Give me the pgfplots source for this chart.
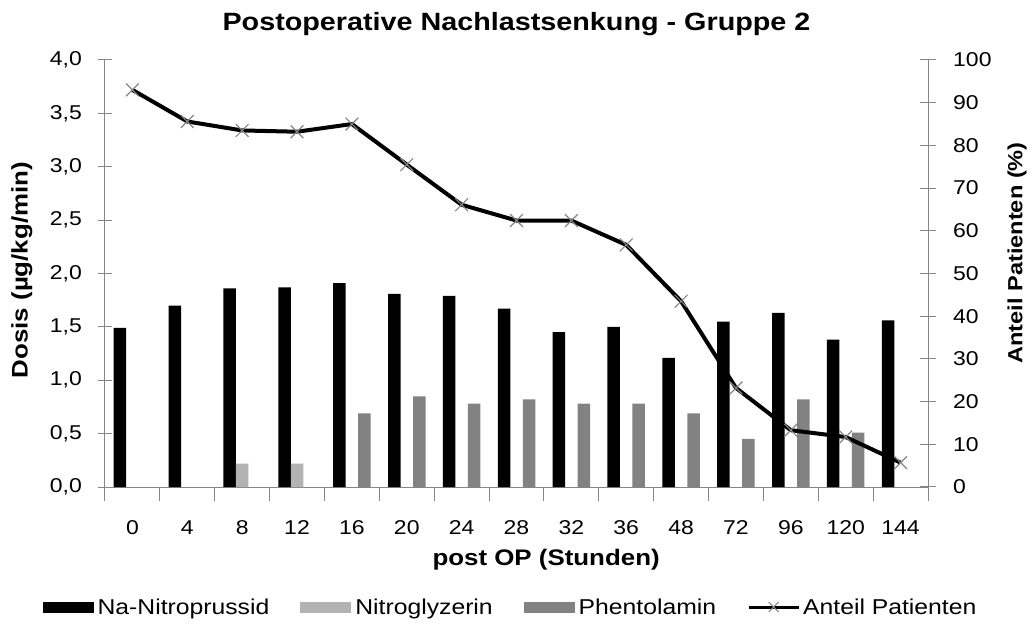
\documentclass[border=0pt]{standalone}
\usepackage{pgfplots}
\pgfplotsset{compat=1.18}
\usepackage{fontspec}
\setmainfont{Liberation Sans}[FakeStretch=1.15]
\definecolor{axgray}{HTML}{868686}
\definecolor{nitro}{HTML}{B3B3B3}
\definecolor{phento}{HTML}{828282}
\pgfplotsset{
  barlegend/.style={legend image code/.code={\fill[##1] (0bp,-5.5bp) rectangle (51bp,5.5bp); \path (53bp,0bp);}},
  linelegend/.style={legend image code/.code={\draw[mark repeat=2,mark phase=2,##1,sharp plot] plot coordinates {(0bp,0bp) (25bp,0bp) (50bp,0bp)}; \path (51bp,0bp);}},
}
\begin{document}
\begin{tikzpicture}
\path[use as bounding box] (-105bp,-137bp) rectangle (926bp,487bp);
\begin{axis}[
  at={(0,0)}, anchor=south west,
  scale only axis, width=823bp, height=427bp,
  xmin=-0.5, xmax=14.5, ymin=0, ymax=4,
  axis x line*=bottom, axis y line*=left,
  axis line style={axgray, line width=1bp, -},
  every tick/.style={axgray, line width=1bp},
  tick align=center,
  major tick length=14bp, minor tick length=14bp,
  xtick={0,...,14},
  xticklabels={0,4,8,12,16,20,24,28,32,36,48,72,96,120,144},
  major x tick style={draw=none},
  minor xtick={-0.5,0.5,...,14.5},
  ytick={0,0.5,1,1.5,2,2.5,3,3.5,4},
  yticklabel={\pgfmathprintnumber[fixed,fixed zerofill,precision=1,use comma,assume math mode=true]{\tick}},
  tick label style={font=\fontsize{20bp}{24bp}\selectfont},
  xticklabel style={anchor=base, yshift=-33bp},
  yticklabel style={anchor=east, inner sep=0pt, xshift=-16bp},
  title={Postoperative Nachlastsenkung - Gruppe 2},
  title style={font=\fontsize{25bp}{30bp}\selectfont\bfseries, at={(axis description cs:0.5,1)}, anchor=base, yshift=24bp},
  xlabel={post OP (Stunden)},
  xlabel style={font=\fontsize{22.5bp}{27bp}\selectfont\bfseries, at={(axis description cs:0.536,0)}, anchor=base, yshift=-78bp},
  ylabel={Dosis (µg/kg/min)},
  ylabel style={font=\fontsize{22.5bp}{27bp}\selectfont\bfseries, at={(axis description cs:-0.1009,0.508)}, anchor=center},
  ybar=0pt, bar width=12.5bp,
  legend style={at={(axis description cs:0.4927,0)}, anchor=center, yshift=-120bp, draw=none, fill=none,
    font=\fontsize{21.5bp}{26bp}\selectfont, /tikz/every even column/.append style={column sep=29bp}},
  legend columns=-1,
]
\addplot[fill=black, draw=none, barlegend] coordinates {
 (0,1.49) (1,1.70) (2,1.86) (3,1.87) (4,1.91) (5,1.81) (6,1.79) (7,1.67)
 (8,1.45) (9,1.50) (10,1.21) (11,1.55) (12,1.63) (13,1.38) (14,1.56)};
\addlegendentry{Na-Nitroprussid}
\addplot[fill=nitro, draw=none, barlegend] coordinates {
 (2,0.22) (3,0.22)};
\addlegendentry{Nitroglyzerin}
\addplot[fill=phento, draw=none, barlegend] coordinates {
 (4,0.69) (5,0.85) (6,0.78) (7,0.82) (8,0.78) (9,0.78) (10,0.69) (11,0.45) (12,0.82) (13,0.51)};
\addlegendentry{Phentolamin}
\addlegendimage{black, line width=3bp, mark=x, mark size=7bp, mark options={axgray, line width=1bp}, linelegend}
\addlegendentry{Anteil Patienten}
\end{axis}
\begin{axis}[
  at={(0,0)}, anchor=south west,
  scale only axis, width=823bp, height=427bp,
  xmin=-0.5, xmax=14.5, ymin=0, ymax=100,
  axis x line=none, axis y line*=right,
  axis line style={axgray, line width=1bp, -},
  every tick/.style={axgray, line width=1bp},
  tick align=center, major tick length=16bp,
  ytick={0,10,...,100},
  yticklabel={\pgfmathprintnumber[assume math mode=true]{\tick}},
  tick label style={font=\fontsize{20bp}{24bp}\selectfont},
  yticklabel style={anchor=west, inner sep=0pt, xshift=17bp},
  ylabel={Anteil Patienten (\%)},
  ylabel style={font=\fontsize{20.5bp}{25bp}\selectfont\bfseries, at={(axis description cs:1.1081,0.548)}, anchor=center},
]
\addplot[black, line width=4bp, mark=x, mark size=9bp, mark options={axgray, line width=1.2bp}] coordinates {
 (0,93.0) (1,85.6) (2,83.5) (3,83.2) (4,85.0) (5,75.5) (6,66.1) (7,62.4)
 (8,62.4) (9,56.7) (10,43.5) (11,23.2) (12,13.3) (13,11.7) (14,5.7)};
\end{axis}
\end{tikzpicture}
\end{document}
